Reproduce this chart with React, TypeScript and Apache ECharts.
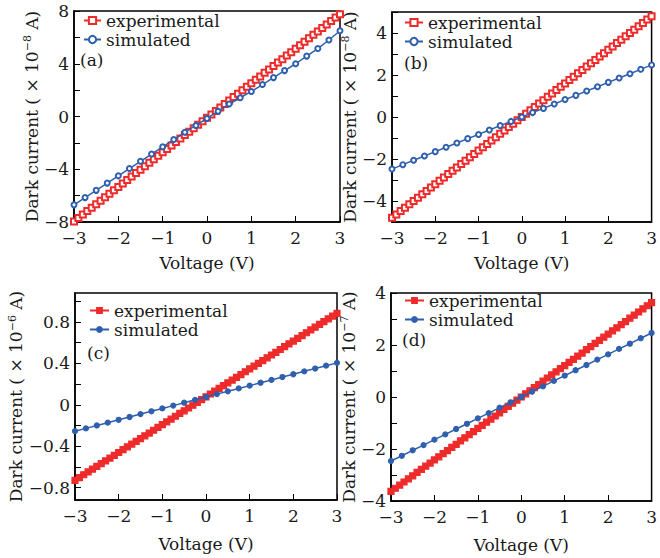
import React, { useEffect, useRef } from "react";
import * as echarts from "echarts";

const VOLT_EXP = [-3,-2.9,-2.8,-2.7,-2.6,-2.5,-2.4,-2.3,-2.2,-2.1,-2,-1.9,-1.8,-1.7,-1.6,-1.5,-1.4,-1.3,-1.2,-1.1,-1,-0.9,-0.8,-0.7,-0.6,-0.5,-0.4,-0.3,-0.2,-0.1,0,0.1,0.2,0.3,0.4,0.5,0.6,0.7,0.8,0.9,1,1.1,1.2,1.3,1.4,1.5,1.6,1.7,1.8,1.9,2,2.1,2.2,2.3,2.4,2.5,2.6,2.7,2.8,2.9,3];
const VOLT_SIM = [-3,-2.75,-2.5,-2.25,-2,-1.75,-1.5,-1.25,-1,-0.75,-0.5,-0.25,0,0.25,0.5,0.75,1,1.25,1.5,1.75,2,2.25,2.5,2.75,3];

// panel (a), x 1e-8 A
const EXP_A = [-7.96,-7.70,-7.44,-7.17,-6.91,-6.65,-6.39,-6.13,-5.86,-5.60,-5.34,-5.08,-4.82,-4.55,-4.29,-4.03,-3.77,-3.51,-3.24,-2.98,-2.72,-2.46,-2.20,-1.93,-1.67,-1.41,-1.15,-0.89,-0.62,-0.36,-0.10,0.16,0.42,0.69,0.95,1.21,1.47,1.73,2.00,2.26,2.52,2.78,3.04,3.31,3.57,3.83,4.09,4.35,4.62,4.88,5.14,5.40,5.66,5.93,6.19,6.45,6.71,6.97,7.24,7.50,7.76];
const SIM_A = [-6.70,-6.15,-5.60,-5.05,-4.50,-3.95,-3.40,-2.85,-2.30,-1.75,-1.20,-0.68,-0.15,0.40,0.95,1.42,1.90,2.42,2.95,3.48,4.00,4.58,5.15,5.80,6.50];
// panel (b), x 1e-8 A
const EXP_B = [-4.80,-4.64,-4.48,-4.32,-4.16,-4.00,-3.84,-3.68,-3.52,-3.36,-3.20,-3.04,-2.88,-2.72,-2.56,-2.40,-2.24,-2.08,-1.92,-1.76,-1.60,-1.44,-1.28,-1.12,-0.96,-0.80,-0.64,-0.48,-0.32,-0.16,0.00,0.16,0.32,0.48,0.64,0.80,0.96,1.12,1.28,1.44,1.60,1.76,1.92,2.08,2.24,2.40,2.56,2.72,2.88,3.04,3.20,3.36,3.52,3.68,3.84,4.00,4.16,4.32,4.48,4.64,4.80];
const SIM_B = [-2.48,-2.27,-2.06,-1.86,-1.65,-1.44,-1.24,-1.03,-0.83,-0.62,-0.41,-0.21,0.00,0.21,0.41,0.62,0.83,1.03,1.24,1.44,1.65,1.86,2.06,2.27,2.48];
// panel (c), x 1e-6 A
const EXP_C = [-0.730,-0.703,-0.676,-0.649,-0.622,-0.596,-0.569,-0.542,-0.515,-0.488,-0.461,-0.434,-0.407,-0.380,-0.353,-0.327,-0.300,-0.273,-0.246,-0.219,-0.192,-0.165,-0.138,-0.111,-0.084,-0.058,-0.031,-0.004,0.023,0.050,0.077,0.104,0.131,0.158,0.185,0.212,0.238,0.265,0.292,0.319,0.346,0.373,0.400,0.427,0.454,0.481,0.507,0.534,0.561,0.588,0.615,0.642,0.669,0.696,0.723,0.750,0.776,0.803,0.830,0.857,0.884];
const SIM_C = [-0.255,-0.228,-0.200,-0.173,-0.145,-0.118,-0.090,-0.063,-0.035,-0.008,0.020,0.048,0.075,0.103,0.130,0.158,0.185,0.213,0.240,0.268,0.295,0.323,0.350,0.378,0.405];
// panel (d), x 1e-7 A
const EXP_D = [-3.63,-3.51,-3.39,-3.27,-3.15,-3.03,-2.90,-2.78,-2.66,-2.54,-2.42,-2.30,-2.18,-2.06,-1.94,-1.82,-1.69,-1.57,-1.45,-1.33,-1.21,-1.09,-0.97,-0.85,-0.73,-0.61,-0.48,-0.36,-0.24,-0.12,0.00,0.12,0.24,0.36,0.48,0.61,0.73,0.85,0.97,1.09,1.21,1.33,1.45,1.57,1.69,1.82,1.94,2.06,2.18,2.30,2.42,2.54,2.66,2.78,2.90,3.03,3.15,3.27,3.39,3.51,3.63];
const SIM_D = [-2.46,-2.26,-2.05,-1.85,-1.64,-1.44,-1.23,-1.03,-0.82,-0.62,-0.41,-0.21,0.00,0.21,0.41,0.62,0.82,1.03,1.23,1.44,1.64,1.85,2.05,2.26,2.46];

const X_TICKS = [-3, -2, -1, 0, 1, 2, 3];
const Y_RANGE_A = [-8, 8];
const Y_LABELS_A = [-8, -4, 0, 4, 8];
const Y_TICKS_A = [-8, -6, -4, -2, 0, 2, 4, 6, 8];
const Y_RANGE_B = [-5, 5];
const Y_LABELS_B = [-4, -2, 0, 2, 4];
const Y_TICKS_B = [-5, -4, -3, -2, -1, 0, 1, 2, 3, 4, 5];
const Y_RANGE_C = [-0.92, 1.08];
const Y_LABELS_C = [-0.8, -0.4, 0, 0.4, 0.8];
const Y_TICKS_C = [-0.8, -0.6, -0.4, -0.2, 0, 0.2, 0.4, 0.6, 0.8, 1.0];
const Y_RANGE_D = [-4, 4];
const Y_LABELS_D = [-4, -2, 0, 2, 4];
const Y_TICKS_D = [-4, -3, -2, -1, 0, 1, 2, 3, 4];
const EXPONENTS = ["−8", "−8", "−6", "−7"];
const PANEL_TAGS = ["(a)", "(b)", "(c)", "(d)"];
const SERIES_NAMES = ["experimental", "simulated"];

const RED = "#ee2b2b";
const BLUE = "#2f5fae";
const FONT = "DejaVu Serif";
const TXT = "#1a1a1a";
const FS = 17;

export default function App() {
  const ref = useRef<HTMLDivElement>(null);
  useEffect(() => {
    if (!ref.current) return;
    const chart = echarts.init(ref.current, null, { renderer: "svg" });
    const fmt = (v: number) => String(Math.round(v * 100) / 100).replace("-", "−");

    const grids = [
      { left: 74, top: 11, width: 266, height: 211 },
      { left: 392, top: 12, width: 264, height: 210 },
      { left: 75, top: 293, width: 262, height: 207 },
      { left: 391, top: 293, width: 265, height: 208 },
    ];
    const yRanges = [Y_RANGE_A, Y_RANGE_B, Y_RANGE_C, Y_RANGE_D];
    const yLabels = [Y_LABELS_A, Y_LABELS_B, Y_LABELS_C, Y_LABELS_D];
    const yTicks = [Y_TICKS_A, Y_TICKS_B, Y_TICKS_C, Y_TICKS_D];
    const yNameGaps = [32, 28, 44, 29];
    const xNameGaps = [32, 32, 35, 35];
    const exps = [EXP_A, EXP_B, EXP_C, EXP_D];
    const sims = [SIM_A, SIM_B, SIM_C, SIM_D];
    const legendPos = [
      { left: 83, top: 12, w: 17 },
      { left: 404, top: 14, w: 18 },
      { left: 89, top: 302, w: 19 },
      { left: 404, top: 292, w: 19 },
    ];
    const tagPos = [
      [80, 60],
      [404, 63],
      [87, 353],
      [402, 340],
    ];
    const suffix = ["a", "b", "c", "d"];

    const axisLine = { show: true, onZero: false, lineStyle: { color: "#000", width: 1.5 } };
    const tickStyle = { color: "#000", width: 1 };

    const xAxis = grids.map((_, i) => ({
      type: "value",
      gridIndex: i,
      min: -3,
      max: 3,
      axisLine,
      axisTick: { show: true, inside: true, length: 6, lineStyle: tickStyle, customValues: X_TICKS },
      axisLabel: { customValues: X_TICKS, formatter: fmt, fontFamily: FONT, fontSize: FS, color: TXT, margin: 7 },
      splitLine: { show: false },
      name: "Voltage (V)",
      nameLocation: "middle",
      nameGap: xNameGaps[i],
      nameTextStyle: { fontFamily: FONT, fontSize: FS, color: TXT },
    }));

    const yAxis = grids.map((_, i) => ({
      type: "value",
      gridIndex: i,
      min: yRanges[i][0],
      max: yRanges[i][1],
      axisLine,
      axisTick: { show: true, inside: true, length: 6, lineStyle: tickStyle, customValues: yTicks[i] },
      axisLabel: { customValues: yLabels[i], formatter: fmt, fontFamily: FONT, fontSize: FS, color: TXT, margin: 5 },
      splitLine: { show: false },
      name: "{t|Dark current ( × 10}{s|" + EXPONENTS[i] + "}{t| A)}",
      nameLocation: "middle",
      nameRotate: 90,
      nameGap: yNameGaps[i],
      nameTextStyle: {
        fontFamily: FONT,
        fontSize: FS,
        color: TXT,
        rich: {
          t: { fontFamily: FONT, fontSize: FS, color: TXT, lineHeight: 19 },
          s: { fontFamily: FONT, fontSize: 11, color: TXT, verticalAlign: "top", lineHeight: 19 },
        },
      },
    }));

    const series: any[] = [];
    grids.forEach((_, i) => {
      const open = i < 2;
      series.push({
        type: "line",
        name: SERIES_NAMES[0] + "|" + suffix[i],
        xAxisIndex: i,
        yAxisIndex: i,
        data: VOLT_EXP.map((v, k) => [v, exps[i][k]]),
        symbol: open ? "emptyRect" : "rect",
        symbolSize: 6,
        lineStyle: { color: RED, width: 1.5 },
        itemStyle: { color: RED, borderColor: RED, borderWidth: 1.2 },
        z: 2,
      });
      series.push({
        type: "line",
        name: SERIES_NAMES[1] + "|" + suffix[i],
        xAxisIndex: i,
        yAxisIndex: i,
        data: VOLT_SIM.map((v, k) => [v, sims[i][k]]),
        symbol: open ? "emptyCircle" : "circle",
        symbolSize: 5,
        lineStyle: { color: BLUE, width: 1.5 },
        itemStyle: { color: BLUE, borderColor: BLUE, borderWidth: 1.2 },
        z: 3,
      });
    });

    const legend = grids.map((_, i) => ({
      show: true,
      orient: "vertical",
      left: legendPos[i].left,
      top: legendPos[i].top,
      itemWidth: legendPos[i].w,
      itemHeight: i < 2 ? 9 : 6,
      itemGap: 2,
      padding: 0,
      selectedMode: false,
      data: SERIES_NAMES.map((n) => n + "|" + suffix[i]),
      formatter: (name: string) => name.split("|")[0],
      textStyle: { fontFamily: FONT, fontSize: FS, color: TXT, lineHeight: 16 },
    }));

    const graphic = PANEL_TAGS.map((t, i) => ({
      type: "text",
      x: tagPos[i][0],
      y: tagPos[i][1],
      style: { text: t, fontFamily: FONT, fontSize: FS, fill: TXT, verticalAlign: "middle" },
    }));

    chart.setOption({
      animation: false,
      backgroundColor: "#fff",
      grid: grids.map((g) => ({ ...g, show: true, borderColor: "#000", borderWidth: 1.5, containLabel: false })),
      xAxis,
      yAxis,
      legend,
      series,
      graphic,
    });
    return () => chart.dispose();
  }, []);
  return <div ref={ref} style={{ position: "fixed", left: 0, top: 0, width: 660, height: 558 }} />;
}
